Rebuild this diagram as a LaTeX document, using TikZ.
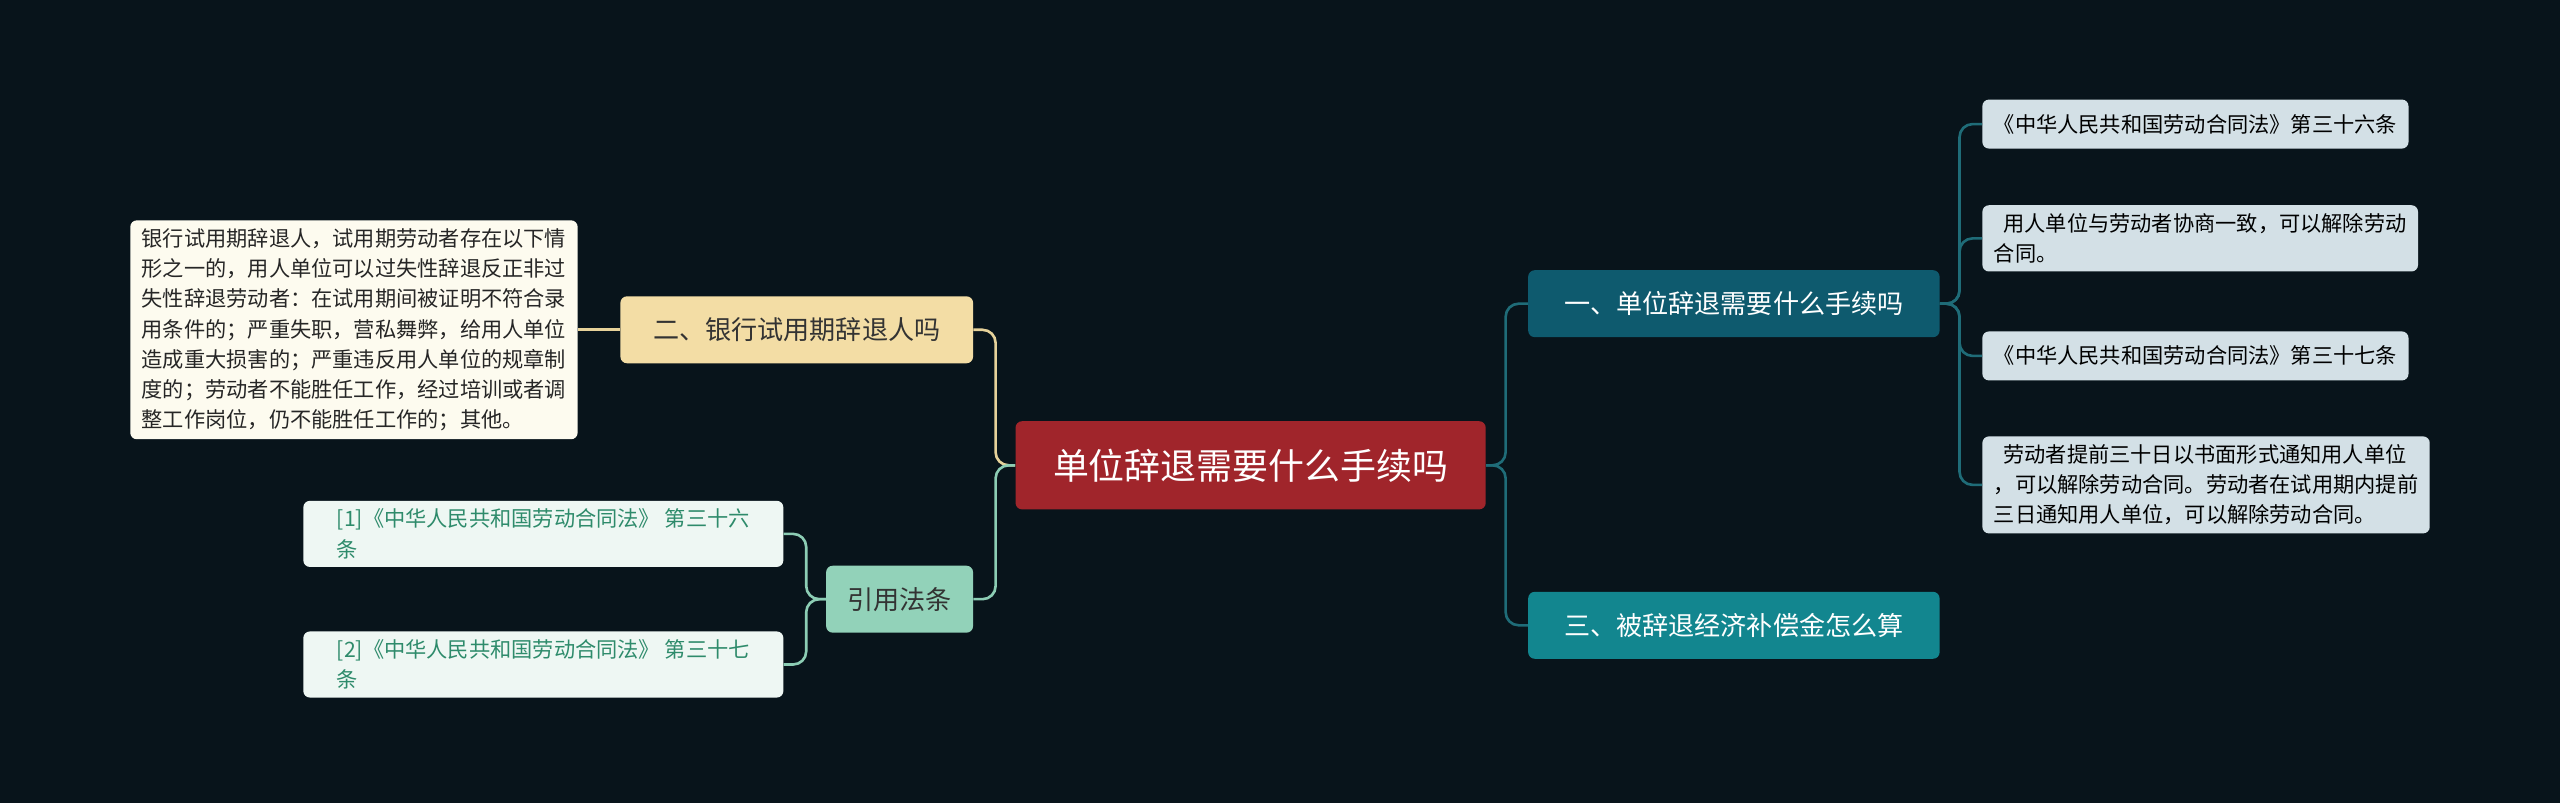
\documentclass[tikz,border=0pt]{standalone}
\usepackage{fontspec}
\setmainfont{Noto Sans CJK SC}
\usetikzlibrary{positioning}
\definecolor{bgdark}{HTML}{08141B}
\definecolor{rootred}{HTML}{A0252B}
\definecolor{tealdark}{HTML}{0E5A6E}
\definecolor{tealmid}{HTML}{12868F}
\definecolor{leafgray}{HTML}{D3E0E6}
\definecolor{beige}{HTML}{F3DDA5}
\definecolor{cream}{HTML}{FDFBEF}
\definecolor{mint}{HTML}{92D2B9}
\definecolor{mintlight}{HTML}{EEF7F3}
\definecolor{reftext}{HTML}{2E8B6B}
\definecolor{linkteal}{HTML}{1F6C78}
\definecolor{linkbeige}{HTML}{E6D29A}
\definecolor{linkmint}{HTML}{8CCDB4}
\begin{document}
\begin{tikzpicture}[x=1pt, y=-1pt,
    box/.style={rectangle, rounded corners=4pt, fill=#1, inner xsep=7pt, inner ysep=5pt},
    topic/.style={box=#1, minimum height=41pt, font=\fontsize{16}{19}\selectfont, text=white},
    leaf/.style={box=#1, font=\fontsize{13}{18.5}\selectfont, align=left, anchor=west},
    link/.style={line width=1.6pt, rounded corners=8pt, color=#1}
]
\fill[bgdark] (0,0) rectangle (1568,492);

% root
\node[box=rootred, minimum width=288pt, minimum height=54pt, font=\fontsize{22}{26}\selectfont, text=white] (root) at (766,285) {单位辞退需要什么手续吗};

% right side
\node[topic=tealdark, minimum width=252pt] (q1) at (1062,186) {一、单位辞退需要什么手续吗};
\node[topic=tealmid, minimum width=252pt] (q3) at (1062,383) {三、被辞退经济补偿金怎么算};

\node[leaf=leafgray, minimum height=30pt] (r1) at (1214,76) {《中华人民共和国劳动合同法》第三十六条};
\node[leaf=leafgray] (r2) at (1214,146) {\ \ 用人单位与劳动者协商一致，可以解除劳动\\合同。};
\node[leaf=leafgray, minimum height=30pt] (r3) at (1214,218) {《中华人民共和国劳动合同法》第三十七条};
\node[leaf=leafgray] (r4) at (1214,297) {\ \ 劳动者提前三十日以书面形式通知用人单位\\，可以解除劳动合同。劳动者在试用期内提前\\三日通知用人单位，可以解除劳动合同。};

\draw[link=linkteal] (root.east) -- ++(12,0) |- (q1.west);
\draw[link=linkteal] (root.east) -- ++(12,0) |- (q3.west);
\foreach \n in {r1,r2,r3,r4}
  \draw[link=linkteal] (q1.east) -- ++(12,0) |- (\n.west);

% left side
\node[topic=beige, minimum width=216pt, text=black!80] (q2) at (488,202) {二、银行试用期辞退人吗};
\node[leaf=cream, anchor=east, text=black!85] (l1) at (354,202) {银行试用期辞退人，试用期劳动者存在以下情\\形之一的，用人单位可以过失性辞退反正非过\\失性辞退劳动者：在试用期间被证明不符合录\\用条件的；严重失职，营私舞弊，给用人单位\\造成重大损害的；严重违反用人单位的规章制\\度的；劳动者不能胜任工作，经过培训或者调\\整工作岗位，仍不能胜任工作的；其他。};

\node[topic=mint, minimum width=90pt, text=black!80] (cite) at (551,367) {引用法条};
\node[leaf=mintlight, anchor=east, text=reftext, minimum width=294pt] (c1) at (480,327) {[1]《中华人民共和国劳动合同法》 第三十六\\条};
\node[leaf=mintlight, anchor=east, text=reftext, minimum width=294pt] (c2) at (480,407) {[2]《中华人民共和国劳动合同法》 第三十七\\条};

\draw[link=linkbeige] (root.west) -- ++(-12,0) |- (q2.east);
\draw[link=linkmint] (root.west) -- ++(-12,0) |- (cite.east);
\draw[link=linkbeige] (q2.west) -- (l1.east);
\draw[link=linkmint] (cite.west) -- ++(-12,0) |- (c1.east);
\draw[link=linkmint] (cite.west) -- ++(-12,0) |- (c2.east);
\end{tikzpicture}
\end{document}
